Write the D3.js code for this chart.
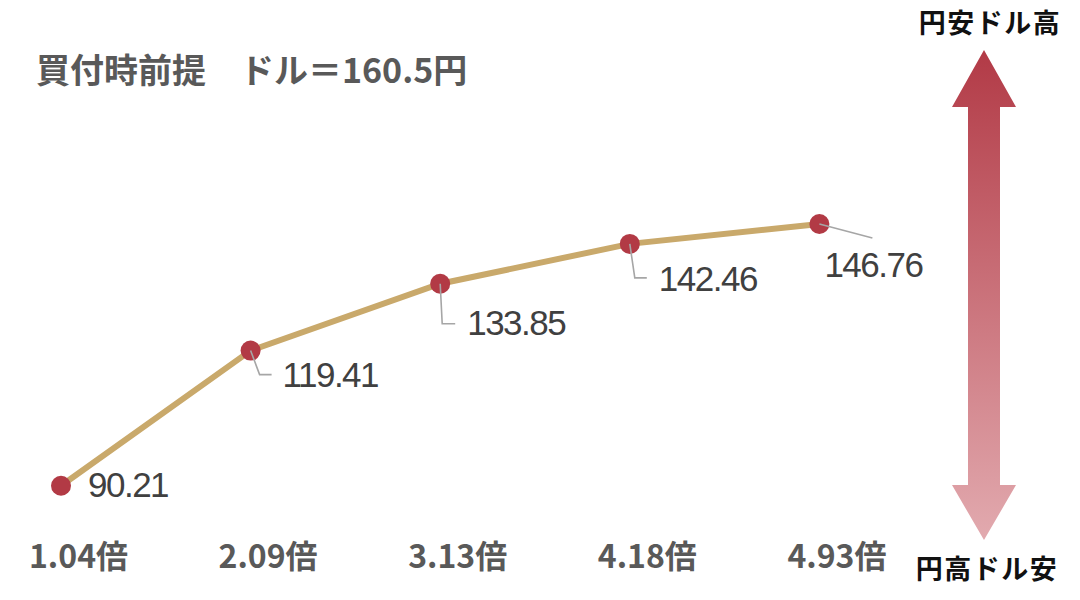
<!DOCTYPE html>
<html lang="ja">
<head>
<meta charset="UTF-8">
<title>買付時前提 ドル＝160.5円</title>
<script src="https://d3js.org/d3.v7.min.js"></script>
<style>
  body { margin: 0; background: #fff; }
  .cjk { font-family: "Noto Sans CJK JP", "Noto Sans", sans-serif; }
  .val { font-family: "Liberation Sans", Arial, sans-serif; font-size: 35px; letter-spacing: -1.5px; fill: #404040; }
</style>
</head>
<body>
<svg id="chart" width="1080" height="600"></svg>
<script>
    // data
    const categories = ["1.04倍", "2.09倍", "3.13倍", "4.18倍", "4.93倍"];
    const values = [90.21, 119.41, 133.85, 142.46, 146.76];
    const valueLabels = ["90.21", "119.41", "133.85", "142.46", "146.76"];
    const titleText = "買付時前提　ドル＝160.5円";
    const topNote = "円安ドル高";
    const bottomNote = "円高ドル安";

    // label offsets from each point (dx, dy of text; leader: "none" | "elbow" | "diag")
    const labelLayout = [
        {dx: 27, dy: 11, leader: "none"},
        {dx: 32, dy: 36, leader: "elbow", ex: 9, ey: 24, hx: 21},
        {dx: 27, dy: 51, leader: "elbow", ex: 2, ey: 40, hx: 15},
        {dx: 29, dy: 47, leader: "elbow", ex: 5, ey: 34, hx: 17},
        {dx: 5, dy: 53, leader: "diag", ex: 53, ey: 14}
    ];

    const svg = d3.select("#chart");

    const x = d3.scalePoint().domain(categories).range([61, 819.4]).padding(0);
    const y = d3.scaleLinear().domain([80, 160]).range([533, 162.7]);

    // title
    svg.append("text")
        .attr("class", "cjk")
        .attr("x", 36).attr("y", 83)
        .attr("font-size", 34).attr("font-weight", 700)
        .attr("fill", "#595959")
        .text(titleText);

    // x axis labels (no axis line)
    const xAxis = d3.axisBottom(x).tickSize(0).tickPadding(0);
    const gx = svg.append("g")
        .attr("transform", "translate(17,542)")
        .call(xAxis);
    gx.select(".domain").remove();
    gx.selectAll("text")
        .attr("class", "cjk")
        .attr("dy", "0.8em")
        .attr("font-size", 32).attr("font-weight", 700)
        .attr("fill", "#595959");

    // line
    const line = d3.line()
        .x((d, i) => x(categories[i]))
        .y(d => y(d));

    svg.append("path")
        .datum(values)
        .attr("d", line)
        .attr("fill", "none")
        .attr("stroke", "#c9a96b")
        .attr("stroke-width", 6);

    // points
    svg.selectAll(".pt")
        .data(values)
        .join("circle")
        .attr("class", "pt")
        .attr("cx", (d, i) => x(categories[i]))
        .attr("cy", d => y(d))
        .attr("r", 10)
        .attr("fill", "#b23a45");

    // leader lines
    svg.selectAll(".leader")
        .data(values.map((v, i) => ({v, i, l: labelLayout[i]})).filter(d => d.l.leader !== "none"))
        .join("path")
        .attr("class", "leader")
        .attr("fill", "none")
        .attr("stroke", "#a6a6a6")
        .attr("stroke-width", 1.6)
        .attr("d", d => {
            const px = x(categories[d.i]), py = y(d.v), l = d.l;
            if (l.leader === "diag") return `M${px},${py}L${px + l.ex},${py + l.ey}`;
            return `M${px},${py}L${px + l.ex},${py + l.ey}L${px + l.hx},${py + l.ey}`;
        });

    // value labels
    svg.selectAll(".val")
        .data(values)
        .join("text")
        .attr("class", "val")
        .attr("x", (d, i) => x(categories[i]) + labelLayout[i].dx)
        .attr("y", (d, i) => y(d) + labelLayout[i].dy)
        .text((d, i) => valueLabels[i]);

    // double arrow with gradient
    const grad = svg.append("defs").append("linearGradient")
        .attr("id", "arrowGrad")
        .attr("x1", 0).attr("y1", 0).attr("x2", 0).attr("y2", 1);
    grad.append("stop").attr("offset", "0%").attr("stop-color", "#b23a46");
    grad.append("stop").attr("offset", "100%").attr("stop-color", "#e2aaaf");

    const arrowX = 984, arrowTop = 50, arrowBot = 540, headH = 57, headW = 32, shaftW = 16;
    const arrowPts = [
        [arrowX, arrowTop], [arrowX + headW, arrowTop + headH], [arrowX + shaftW, arrowTop + headH],
        [arrowX + shaftW, arrowBot - headH + 2], [arrowX + headW, arrowBot - headH + 2], [arrowX, arrowBot],
        [arrowX - headW, arrowBot - headH + 2], [arrowX - shaftW, arrowBot - headH + 2],
        [arrowX - shaftW, arrowTop + headH], [arrowX - headW, arrowTop + headH]
    ];
    svg.append("polygon")
        .attr("points", arrowPts.map(p => p.join(",")).join(" "))
        .attr("fill", "url(#arrowGrad)");

    svg.append("text")
        .attr("class", "cjk")
        .attr("x", 990).attr("y", 33)
        .attr("text-anchor", "middle")
        .attr("font-size", 27).attr("font-weight", 700)
        .attr("letter-spacing", 1.5)
        .attr("fill", "#111")
        .text(topNote);

    svg.append("text")
        .attr("class", "cjk")
        .attr("x", 987).attr("y", 579)
        .attr("text-anchor", "middle")
        .attr("font-size", 27).attr("font-weight", 700)
        .attr("letter-spacing", 1.5)
        .attr("fill", "#111")
        .text(bottomNote);
</script>
</body>
</html>
